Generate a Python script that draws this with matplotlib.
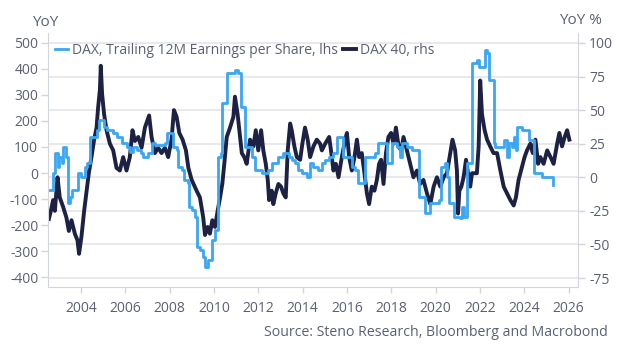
import matplotlib
matplotlib.use("Agg")
import matplotlib.pyplot as plt

plt.rcParams["font.family"] = ["Open Sans", "DejaVu Sans"]
plt.rcParams["axes.unicode_minus"] = False

# DAX 40, YoY % (rhs)
dax_t = [2002.56, 2002.65, 2002.75, 2002.83, 2002.95, 2003.05, 2003.2, 2003.35, 2003.46, 2003.58,
         2003.73, 2003.85, 2003.92, 2004.03, 2004.15, 2004.26, 2004.36, 2004.48, 2004.6, 2004.71,
         2004.78, 2004.86, 2004.9, 2004.96, 2005.05, 2005.16, 2005.31, 2005.46, 2005.61, 2005.76,
         2005.91, 2006.06, 2006.21, 2006.33, 2006.44, 2006.59, 2006.74, 2006.89, 2007.08, 2007.19,
         2007.34, 2007.49, 2007.64, 2007.79, 2007.94, 2008.09, 2008.2, 2008.32, 2008.44, 2008.59,
         2008.74, 2008.85, 2009.0, 2009.22, 2009.37, 2009.52, 2009.6,
         2009.72, 2009.82, 2009.93, 2010.05, 2010.17, 2010.28, 2010.38, 2010.47, 2010.58, 2010.73,
         2010.88, 2010.95, 2011.07, 2011.18, 2011.26, 2011.37, 2011.48, 2011.63, 2011.78, 2011.89,
         2012.0, 2012.13, 2012.23, 2012.34, 2012.43, 2012.49, 2012.61, 2012.68, 2012.79, 2012.91,
         2013.03, 2013.13, 2013.24, 2013.33, 2013.44, 2013.51, 2013.63, 2013.74, 2013.89, 2013.99,
         2014.11, 2014.23, 2014.34, 2014.49, 2014.64, 2014.79, 2014.87, 2015.02, 2015.2, 2015.32,
         2015.39, 2015.5, 2015.62, 2015.77, 2015.92, 2016.0, 2016.1, 2016.22, 2016.34, 2016.45,
         2016.55, 2016.67, 2016.79, 2016.9, 2017.0, 2017.12, 2017.24, 2017.35, 2017.45, 2017.54,
         2017.65, 2017.76, 2017.87, 2017.99, 2018.1, 2018.21, 2018.33, 2018.45, 2018.55, 2018.66,
         2018.81, 2019.0, 2019.16, 2019.3, 2019.45, 2019.61, 2019.76, 2019.91, 2020.06, 2020.21,
         2020.36, 2020.51, 2020.66, 2020.76, 2020.88, 2020.96, 2021.01, 2021.07, 2021.16, 2021.26,
         2021.37, 2021.46, 2021.56, 2021.64, 2021.76, 2021.86, 2021.94, 2022.01, 2022.09, 2022.21,
         2022.32, 2022.46, 2022.61, 2022.77, 2022.92, 2023.07, 2023.22, 2023.37, 2023.52, 2023.62,
         2023.74, 2023.9, 2024.01, 2024.12, 2024.27, 2024.38, 2024.5, 2024.62, 2024.72, 2024.87,
         2025.03, 2025.18, 2025.32, 2025.48, 2025.58, 2025.7, 2025.82, 2025.93, 2026.03]
dax_v = [-31, -25, -17, -25, 0, -15, -22, -30, -40, -32,
         -42, -47, -57, -44, -25, -10, 3, 15, 28, 37,
         52, 65, 83, 62, 47, 35, 25, 20, 7, 5,
         15, 5, 15, 35, 27, 30, 22, 37, 46, 30,
         18, 22, 18, 22, 15, 28, 50, 45, 33, 28,
         20, 7, -2, -10, -15, -30, -43,
         -37, -42, -32, -37, -25, -15, -5, 10, 30, 37,
         45, 60, 47, 30, 18, 15, 10, 28, 23, 35,
         20, 35, 20, 10, -2, -17, -10, -20, -12, -5,
         -7, -12, -15, 20, 40, 35, 23, 15, 13, 25,
         37, 28, 15, 23, 28, 25, 20, 25, 30, 15,
         5, 10, 0, 15, 28, 33, 15, 5, 15, 28,
         15, 18, 3, -12, -20, -7, -10, -2, 10, 13,
         -5, 18, 30, 33, 25, 37, 23, 20, 30, 23,
         13, 0, 5, -5, -2, -12, -20, -7, 0, -7,
         0, 3, 18, 28, 20, 5, -27, -10, -7, 0,
         13, 3, -7, 3, 3, 3, 23, 72, 47, 35,
         28, 23, 18, 18, 5, -7, -12, -17, -21, -15,
         -2, 8, 15, 20, 25, 18, 28, 10, 15, 10,
         20, 15, 10, 25, 33, 23, 30, 35, 28]

# DAX trailing 12M EPS, YoY (lhs) - step series, value holds from each date
eps_t = [2002.56, 2002.75, 2002.83, 2002.95, 2003.0, 2003.13, 2003.2, 2003.31, 2003.4, 2003.5,
         2003.58, 2003.88, 2004.03, 2004.18, 2004.3, 2004.41, 2004.71, 2004.81, 2005.05, 2005.16,
         2005.46, 2005.61, 2005.84, 2006.06, 2006.21, 2006.36, 2006.55, 2006.7, 2006.81, 2007.04,
         2007.19, 2007.34, 2007.79, 2007.87, 2008.17, 2008.32, 2008.39, 2008.55, 2008.66, 2008.82,
         2008.88, 2009.02, 2009.15, 2009.22, 2009.37, 2009.52, 2009.6, 2009.75, 2009.9, 2010.05,
         2010.17, 2010.32, 2010.38, 2010.58, 2010.95, 2011.1, 2011.22, 2011.4, 2011.7, 2011.86,
         2012.16, 2012.46, 2012.61, 2012.91, 2013.13, 2013.4, 2013.51, 2013.66, 2013.81, 2013.96,
         2014.19, 2014.34, 2014.49, 2014.71, 2014.87, 2015.02, 2015.17, 2015.39, 2015.54, 2015.84,
         2016.22, 2016.37, 2016.52, 2016.82, 2017.27, 2017.42, 2017.8, 2018.05, 2018.25, 2018.4,
         2018.5, 2018.7, 2018.92, 2019.23, 2019.53, 2019.76, 2020.13, 2020.25, 2020.4, 2020.51,
         2020.61, 2020.85, 2021.11, 2021.19, 2021.26, 2021.41, 2021.64, 2021.86, 2021.97, 2022.21,
         2022.31, 2022.39, 2022.61, 2022.69, 2023.07, 2023.22, 2023.29, 2023.44, 2023.52, 2023.62,
         2023.67, 2023.9, 2024.2, 2024.42, 2024.8, 2025.28]
eps_v = [-65, -1, 76, 24, 63, 37, 101, 63, -117, -91,
         -65, -1, -14, 24, 37, 140, 165, 204, 178, 165,
         153, 140, 114, 101, 82, 101, 90, 75, 63, 76,
         114, 108, 114, 153, 101, 88, 24, 12, -27, -40,
         -130, -142, -168, -283, -296, -322, -360, -335, -258, -219,
         63, 76, 268, 383, 396, 383, 255, 101, 63, 12,
         -1, 12, 37, 63, 76, 63, 50, 37, 12, -1,
         -14, 37, 24, 12, 37, 50, 63, 76, 140, 63,
         24, 12, -40, 63, 76, 114, 37, 114, 101, 63,
         114, 101, 88, -91, -155, -117, -104, 24, 37, -14,
         -117, -168, -174, -130, -168, 37, 422, 435, 409, 473,
         460, 358, 114, 101, 127, 63, 114, 101, 140, 88,
         178, 165, 127, -1, -14, -46]

years = list(range(2004, 2027, 2))
lhs_ticks = list(range(-400, 501, 100))
rhs_ticks = list(range(-75, 101, 25))

DARK = "#1d2244"
BLUE = "#3ba6f2"
TEXT = "#5b5f74"
GRID = "#e4e4ea"
SPINE = "#d3d4dc"


def main():
    fig = plt.figure(figsize=(6.18, 3.53), dpi=100)
    ax = fig.add_axes([48 / 618, 1 - 287 / 353, 530 / 618, 254 / 353])
    ax2 = ax.twinx()

    l2, = ax2.plot(dax_t, dax_v, color=DARK, lw=2.8, solid_joinstyle="round", label="DAX 40, rhs")
    l1, = ax.step(eps_t, eps_v, where="post", color=BLUE, lw=2.0,
                  label="DAX, Trailing 12M Earnings per Share, lhs")

    # EPS line sits on top of the index line
    ax.set_zorder(ax2.get_zorder() + 1)
    ax.patch.set_visible(False)

    ax.set_xlim(2002.52, 2026.42)
    ax.set_ylim(-438, 538)
    ax2.set_ylim(-81.7, 107.4)
    ax.set_xticks(years)
    ax.set_yticks(lhs_ticks)
    ax2.set_yticks(rhs_ticks)
    ax2.grid(axis="y", color=GRID, lw=1.2)
    ax2.set_axisbelow(True)

    for a in (ax, ax2):
        a.spines["top"].set_visible(False)
    ax.spines["right"].set_visible(False)
    ax2.spines["left"].set_visible(False)
    ax2.spines["bottom"].set_visible(False)
    ax.spines["left"].set_color(SPINE)
    ax.spines["bottom"].set_color(SPINE)
    ax2.spines["right"].set_color(SPINE)

    ax.tick_params(axis="y", length=5, width=1, color=SPINE, labelcolor=TEXT, labelsize=10, pad=2)
    ax.tick_params(axis="x", length=4, width=1, color=SPINE, labelcolor=TEXT, labelsize=10, pad=6)
    ax2.tick_params(axis="y", length=5, width=1, color=SPINE, labelcolor=TEXT, labelsize=10, pad=3)

    leg = ax.legend(handles=[l1, l2], loc="upper left", ncol=2, frameon=False,
                    bbox_to_anchor=(55 / 618, 1 - 43 / 353), bbox_transform=fig.transFigure,
                    borderaxespad=0, borderpad=0, handlelength=0.95, handletextpad=0.3,
                    columnspacing=0.35, fontsize=10)
    for t in leg.get_texts():
        t.set_color(TEXT)

    fig.text(32 / 618, 1 - 22 / 353, "YoY", ha="left", va="center", fontsize=11, color=TEXT)
    fig.text(602 / 618, 1 - 20 / 353, "YoY %", ha="right", va="center", fontsize=11, color=TEXT)
    fig.text(608 / 618, 1 - 333 / 353, "Source: Steno Research, Bloomberg and Macrobond",
             ha="right", va="center", fontsize=10.2, color=TEXT)

    fig.savefig("out.png", dpi=100)
    plt.close(fig)


if __name__ == "__main__":
    main()
